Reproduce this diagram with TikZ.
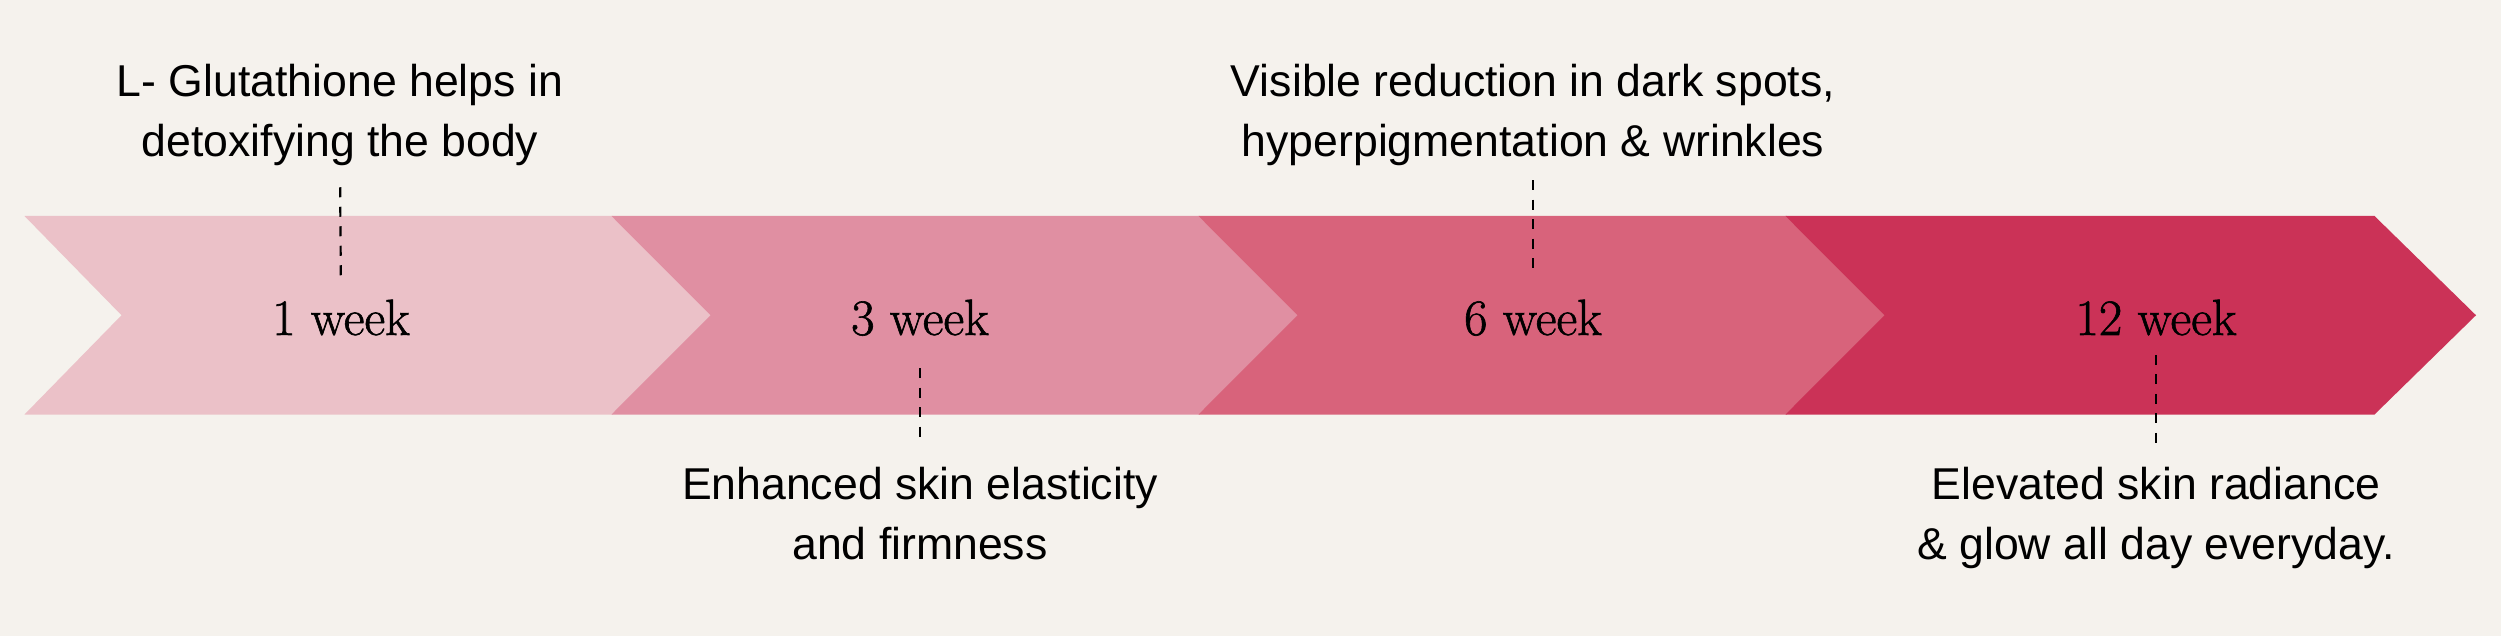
\documentclass[tikz,border=0pt]{standalone}
\usepackage{fontspec}
\newfontfamily\descfont{Liberation Sans}
\newfontfamily\wkfont[FakeBold=1.2]{Latin Modern Roman}
\definecolor{bg}{HTML}{F5F2ED}
\definecolor{cA}{HTML}{EBC1C8}
\definecolor{cB}{HTML}{E08FA2}
\definecolor{cC}{HTML}{D8637B}
\definecolor{cD}{HTML}{CB3257}
\tikzset{
  wk/.style={inner sep=0pt, font=\wkfont\fontsize{25.5}{30}\selectfont, text=black},
  desc/.style={inner sep=0pt, align=center, font=\descfont\fontsize{22.3}{30}\selectfont, text=black},
  dashline/.style={draw=black, line width=1.1pt, dash pattern=on 5pt off 4.75pt}
}
\begin{document}
\begin{tikzpicture}[x=0.5pt,y=-0.5pt]
\fill[bg] (0,0) rectangle (2501,636);
\useasboundingbox (0,0) rectangle (2501,636);
% chevrons
\fill[cA] (24.5,216) -- (612.5,216) -- (711.5,315.25) -- (612.5,414.5) -- (24.5,414.5) -- (121.5,315.25) -- cycle;
\fill[cB] (611.5,216) -- (1199.5,216) -- (1298.5,315.25) -- (1199.5,414.5) -- (611.5,414.5) -- (710.5,315.25) -- cycle;
\fill[cC] (1198.5,216) -- (1786.5,216) -- (1885.5,315.25) -- (1786.5,414.5) -- (1198.5,414.5) -- (1297.5,315.25) -- cycle;
\fill[cD] (1785.5,216) -- (2374.5,216) -- (2476,315.25) -- (2374.5,414.5) -- (1785.5,414.5) -- (1884.5,315.25) -- cycle;
% week labels
\node[wk, anchor=base] (w1) at (341,335) {1 week};
\node[wk, anchor=base] (w2) at (920,335) {3 week};
\node[wk, anchor=base] (w3) at (1533,335) {6 week};
\node[wk, anchor=base] (w4) at (2156,335) {12 week};
% descriptions (base anchor = baseline of last line)
\node[desc, anchor=base] (t1) at (340,157) {L- Glutathione helps in\\detoxifying the body};
\node[desc, anchor=base] (t2) at (920,559) {Enhanced skin elasticity\\and firmness};
\node[desc, anchor=base] (t3) at (1533,157) {Visible reduction in dark spots,\\hyperpigmentation \& wrinkles};
\node[desc, anchor=base] (t4) at (2156,559) {Elevated skin radiance\\\& glow all day everyday.};
% dashed connectors
\draw[dashline, shorten <=10.3pt, shorten >=11.5pt] (t1.south) -- (w1.north);
\draw[dashline, shorten <=6.7pt, shorten >=15.2pt] (t3.south) -- (w3.north);
\draw[dashline, shorten <=16pt, shorten >=10.7pt] (w2.south) -- (t2.north);
\draw[dashline, shorten <=9.5pt, shorten >=10.7pt] (w4.south) -- (t4.north);
\end{tikzpicture}
\end{document}
